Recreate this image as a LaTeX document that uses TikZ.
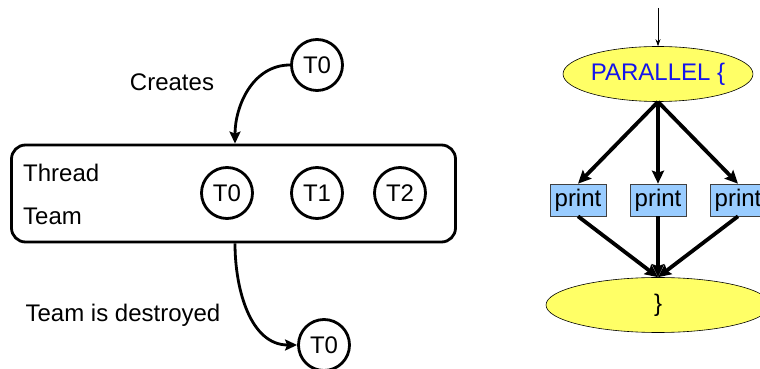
\documentclass[tikz,border=0pt]{standalone}
\usepackage{fontspec}
\setmainfont{Liberation Sans}
\usetikzlibrary{shapes.geometric,arrows.meta}
\definecolor{ylw}{RGB}{255,255,102}
\definecolor{lblue}{RGB}{153,204,255}
\definecolor{txtblue}{RGB}{20,20,235}
\begin{document}
\begin{tikzpicture}[x=1pt,y=1pt,
  bigfont/.style={font=\fontsize{24}{26}\selectfont},
  thr/.style={circle,draw,line width=2.8pt,minimum size=51pt,inner sep=0pt,bigfont},
  lbl/.style={bigfont,inner sep=0pt},
  conn/.style={line width=2.8pt,-{Stealth[length=12pt,width=11pt,inset=2pt]}},
  fat/.style={line width=3.8pt,-{Stealth[length=13pt,width=12pt,inset=2pt]}},
  oval/.style={ellipse,draw,line width=0.6pt,fill=ylw,inner sep=0pt,bigfont},
  printbox/.style={draw=black!75,line width=0.6pt,fill=lblue,minimum width=56pt,minimum height=32pt,inner sep=0pt,bigfont}
]
\useasboundingbox (0,0) rectangle (760,369);
\clip (0,0) rectangle (760,369);
% left diagram
\node[thr] (t0top) at (317,304) {T0};
\node[lbl] (creates) at (172,287) {Creates};
\node[draw,rounded corners=14pt,line width=2.8pt,minimum width=444pt,minimum height=97pt,inner sep=0pt] (team) at (233.5,175.5) {};
\node[lbl,anchor=west] (thread) at (23,196) {Thread};
\node[lbl,anchor=west] (teamlbl) at (23,153) {Team};
\node[thr] (t0) at (227,176) {T0};
\node[thr] (t1) at (317,176) {T1};
\node[thr] (t2) at (400,176) {T2};
\node[thr] (t0bot) at (324,24) {T0};
\node[lbl] (destroyed) at (123,54) {Team is destroyed};
\draw[conn] (t0top.west) to[out=180,in=90] ([xshift=1.5pt]team.north);
\draw[conn] ([xshift=1.5pt]team.south) to[out=270,in=180] (t0bot.west);
% right diagram
\coordinate (entry) at (658,361);
\node[oval,minimum width=168pt,minimum height=55pt,text=txtblue] (par) at (658,295) {PARALLEL \{};
\node[printbox] (p1) at (578,169) {print};
\node[printbox] (p2) at (658,169) {print};
\node[printbox] (p3) at (738,169) {print};
\node[oval,minimum width=224pt,minimum height=55pt] (close) at (658,64) {\}};
\draw[line width=0.8pt,-{Stealth[length=7pt,width=5pt]}] (entry) -- (par.north);
\draw[fat] (par.south) -- (p1.north);
\draw[fat] (par.south) -- (p2.north);
\draw[fat] (par.south) -- (p3.north);
\draw[fat] (p1.south) -- (close.north);
\draw[fat] (p2.south) -- (close.north);
\draw[fat] (p3.south) -- (close.north);
\end{tikzpicture}
\end{document}
